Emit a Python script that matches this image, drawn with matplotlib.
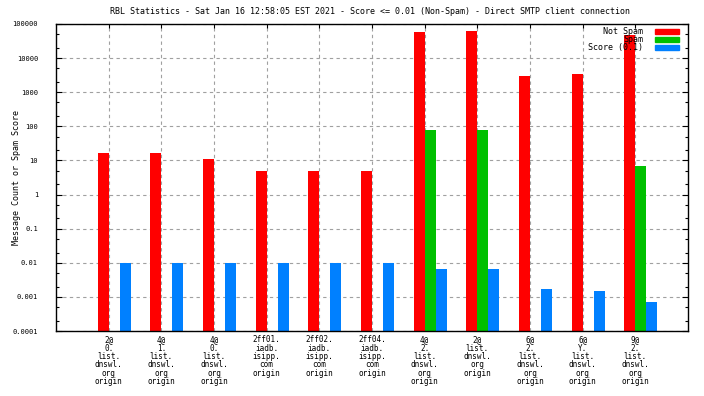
import numpy as np
import matplotlib
matplotlib.use('Agg')
import matplotlib.pyplot as plt
from matplotlib.ticker import LogLocator, FixedLocator, NullFormatter
from matplotlib.patches import Rectangle

# data
categories = ["2@\n0.\nlist.\ndnswl.\norg\norigin",
              "4@\n1.\nlist.\ndnswl.\norg\norigin",
              "4@\n0.\nlist.\ndnswl.\norg\norigin",
              "2ff01.\niadb.\nisipp.\ncom\norigin",
              "2ff02.\niadb.\nisipp.\ncom\norigin",
              "2ff04.\niadb.\nisipp.\ncom\norigin",
              "4@\n2.\nlist.\ndnswl.\norg\norigin",
              "2@\nlist.\ndnswl.\norg\norigin",
              "6@\n2.\nlist.\ndnswl.\norg\norigin",
              "6@\nY.\nlist.\ndnswl.\norg\norigin",
              "9@\n2.\nlist.\ndnswl.\norg\norigin"]
not_spam = [16.5, 16.5, 11, 5, 5, 5, 59000, 63000, 3000, 3400, 48000]
spam = [0, 0, 0, 0, 0, 0, 78, 78, 0, 0, 6.8]
score = [0.01, 0.01, 0.01, 0.01, 0.01, 0.01, 0.0066, 0.0066, 0.0017, 0.0015, 0.0007]
ytick_labels = ['0.0001', '0.001', '0.01', '0.1', '1', '10', '100', '1000', '10000', '100000']

title = "RBL Statistics - Sat Jan 16 12:58:05 EST 2021 - Score <= 0.01 (Non-Spam) - Direct SMTP client connection"

RED = '#ff0000'
GREEN = '#00c000'
BLUE = '#0080ff'
FONT = 'DejaVu Sans Mono'

fig = plt.figure(figsize=(7.04, 3.96), dpi=100)
ax = fig.add_axes([56/704, 1-331/396, 632/704, 307/396])

x = np.arange(len(categories))
w = 0.21
ax.bar(x - w, not_spam, width=w, align='edge', color=RED, zorder=3)
sp = np.array(spam, dtype=float)
m = sp > 0
ax.bar(x[m], sp[m], width=w, align='edge', color=GREEN, zorder=3)
ax.bar(x + w, score, width=w, align='edge', color=BLUE, zorder=3)

ax.set_yscale('log')
ax.set_ylim(1e-4, 1e5)
ax.set_xlim(-1, len(categories))

yt = [10.0**k for k in range(-4, 6)]
ax.yaxis.set_major_locator(FixedLocator(yt))
ax.set_yticklabels(ytick_labels, fontsize=5, family=FONT)
ax.yaxis.set_minor_locator(LogLocator(base=10, subs=(2, 5), numticks=30))
ax.yaxis.set_minor_formatter(NullFormatter())
ax.tick_params(axis='y', which='major', direction='in', length=4, width=0.8,
               right=True, pad=13)
ax.tick_params(axis='y', which='minor', direction='in', length=2, width=0.8, right=True)

ax.set_xticks(x)
ax.set_xticklabels(categories, fontsize=5.5, family=FONT, linespacing=0.92)
ax.tick_params(axis='x', which='both', direction='in', length=3, width=0.8,
               bottom=False, top=True, pad=3)

ax.grid(True, which='major', color='#a0a0a0', linestyle=(0, (3, 3)), linewidth=0.8, zorder=0)
for s in ax.spines.values():
    s.set_linewidth(1.0)
    s.set_zorder(4)

ax.set_ylabel('Message Count or Spam Score', fontsize=6, family=FONT)
ax.yaxis.set_label_coords(-0.055, 0.5)
fig.text(370/704, 1-12/396, title, fontsize=6, family=FONT, ha='center', va='center')

# legend, gnuplot style: text then swatch
leg_names = ['Not Spam', 'Spam', 'Score (0.1)']
leg_colors = [RED, GREEN, BLUE]
for i, (nm, c) in enumerate(zip(leg_names, leg_colors)):
    yc = 31.5 + 8*i
    fig.text(643/704, 1-yc/396, nm, fontsize=6, family=FONT, ha='right', va='center', zorder=6)
    fig.patches.append(Rectangle((655/704, 1-(yc+2.2)/396), 24/704, 4.5/396,
                                 transform=fig.transFigure, color=c, zorder=6, figure=fig))

fig.savefig('out.png', dpi=100)
